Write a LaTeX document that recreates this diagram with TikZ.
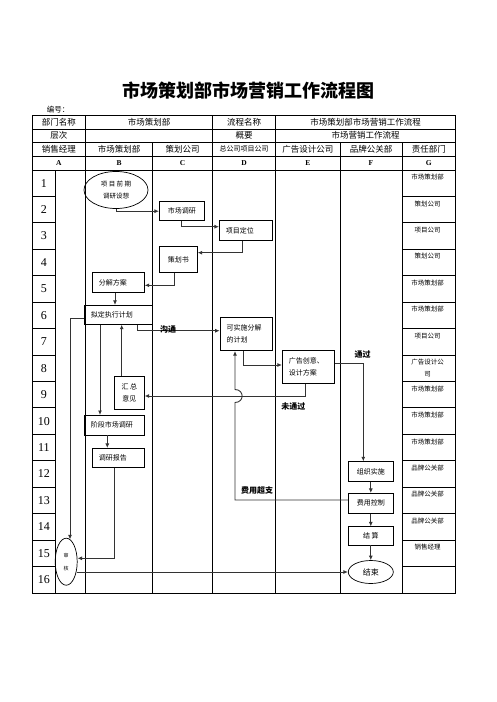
\documentclass[tikz,border=0pt]{standalone}
\usepackage{fontspec}
\setmainfont{Liberation Serif}
\newfontfamily\cjk{Noto Sans CJK SC}
\usetikzlibrary{arrows.meta,calc,shapes.geometric}
\newcommand\cjkfs[2]{\cjk\fontsize{#1}{#2}\selectfont}
\begin{document}
\begin{tikzpicture}[x=1pt,y=-1pt,
  tbl/.style={line width=0.8pt},
  bx/.style={draw, line width=0.7pt, inner sep=0pt, font=\cjkfs{7}{11.5}, align=center},
  bxl/.style={bx, align=left, inner xsep=6.5pt},
  ell/.style={draw, ellipse, line width=0.7pt, inner sep=0pt, align=center},
  conn/.style={line width=0.9pt, draw=black!80, -{Latex[length=4.5pt,width=4pt]}},
  lab/.style={font=\cjk\bfseries\fontsize{8}{9}\selectfont, inner sep=0pt},
  hd/.style={font=\cjkfs{8.5}{9}, inner sep=0pt},
  lt/.style={font=\bfseries\fontsize{7.5}{8}\selectfont, inner sep=0pt},
  num/.style={font=\fontsize{12}{12}\selectfont, inner sep=0pt},
  gt/.style={font=\cjkfs{6.5}{11.6}, inner sep=0pt, anchor=north, align=center}]
\useasboundingbox (0,0) rectangle (496,702);

% title
\node[font=\cjk\bfseries\fontsize{18}{18}\selectfont, inner sep=0pt] (title) at (248.5,91) {市场策划部市场营销工作流程图};
\node[font=\cjkfs{7.5}{8}, inner sep=0pt] (bh) at (58,110) {编号：};

% table
\draw[tbl] (32,115.5) rectangle (455.5,593);
\foreach \yy in {129,142.5,156,170} \draw[tbl] (32,\yy) -- (455.5,\yy);
\foreach \xx in {85.7,212.7,275.7} \draw[tbl] (\xx,115.5) -- (\xx,142.5);
\foreach \xx in {85.7,152.7,212.7,275.7,340,402} \draw[tbl] (\xx,142.5) -- (\xx,170);
\foreach \xx in {55.7,85.7,152.7,212.7,275.7,340,402} \draw[tbl] (\xx,170) -- (\xx,593);
\foreach \k in {1,...,15}{
  \pgfmathsetmacro\yy{170+\k*26.43}
  \draw[tbl] (32,\yy) -- (55.7,\yy);
  \draw[tbl] (402,\yy) -- (455.5,\yy);
}

% header texts
\node[hd] (h11) at (58.9,122.3) {部门名称};
\node[hd] (h12) at (149.2,122.3) {市场策划部};
\node[hd] (h13) at (244.2,122.3) {流程名称};
\node[hd] (h14) at (365.6,122.3) {市场策划部市场营销工作流程};
\node[hd] (h21) at (58.9,135.7) {层次};
\node[hd] (h23) at (244.2,135.7) {概要};
\node[hd] (h24) at (365.6,135.7) {市场营销工作流程};
\node[hd] (h31) at (58.9,149.2) {销售经理};
\node[hd] (h32) at (119.2,149.2) {市场策划部};
\node[hd] (h33) at (182.7,149.2) {策划公司};
\node[hd, font=\cjkfs{7}{8}] (h34) at (244.2,149.2) {总公司项目公司};
\node[hd] (h35) at (307.9,149.2) {广告设计公司};
\node[hd] (h36) at (371,149.2) {品牌公关部};
\node[hd] (h37) at (428.75,149.2) {责任部门};
\foreach \l/\xx in {A/58.9,B/119.2,C/182.7,D/244.2,E/307.9,F/371,G/428.75}
  \node[lt] (L\l) at (\xx,163) {\l};

% row numbers
\foreach \k in {1,...,16}{
  \pgfmathsetmacro\yy{170+(\k-0.5)*26.43}
  \node[num] (n\k) at (43.9,\yy) {\k};
}

% G column texts
\foreach \k/\t in {1/市场策划部,2/策划公司,3/项目公司,4/策划公司,5/市场策划部,6/市场策划部,7/项目公司,8/{广告设计公\\司},9/市场策划部,10/市场策划部,11/市场策划部,12/品牌公关部,13/品牌公关部,14/品牌公关部,15/销售经理}{
  \pgfmathsetmacro\yy{170+(\k-1)*26.43+4}
  \node[gt] (g\k) at (427.5,\yy) {\t};
}

% flow nodes
\node[ell, minimum width=64, minimum height=37, font=\cjkfs{6.5}{11.7}] (e1) at (116,190) {项 目 前 期\\调研设想};
\node[bx, minimum width=45, minimum height=19] (s1) at (181.8,211.2) {市场调研};
\node[bxl, text width=40.4, minimum height=19.6] (s2) at (246,230.5) {项目定位};
\node[bx, minimum width=38, minimum height=25.6] (s3) at (178.3,259.5) {策划书};
\node[bxl, text width=39, minimum height=19.6] (s4) at (118.3,282.5) {分解方案};
\node[bxl, text width=55, minimum height=19] (s5) at (118.3,314.8) {拟定执行计划};
\node[bxl, text width=39.7, minimum height=33.4] (s6) at (246.35,334) {可实施分解\\的计划};
\node[bxl, text width=39, minimum height=33.3] (s7) at (308.3,366.7) {广告创意、\\设计方案};
\node[bx, minimum width=30, minimum height=33.3] (s8) at (129.3,392.7) {汇 总\\意见};
\node[bxl, text width=47, minimum height=19.7] (s9) at (114.3,425.2) {阶段市场调研};
\node[bxl, text width=39, minimum height=19] (s10) at (118.3,457.8) {调研报告};
\node[bx, minimum width=45, minimum height=20] (s11) at (370.8,471.7) {组织实施};
\node[bx, minimum width=45, minimum height=20] (s12) at (370.8,503.3) {费用控制};
\node[bx, minimum width=45, minimum height=18.3] (s13) at (370.8,535.9) {结 算};
\node[ell, minimum width=45, minimum height=23, font=\cjkfs{8}{9}] (e2) at (370.8,572) {结束};
\node[ell, minimum width=22, minimum height=47, font=\cjkfs{5}{13}] (e3) at (66.2,561.7) {审\\核};

% connectors
\draw[conn] (e1.south) |- (s1.west);
\draw[conn] (s1.south) |- ($(s2.west)+(0,-3.8)$);
\draw[conn] ($(s2.south)+(-3.7,0)$) |- ($(s3.east)+(0,-6.8)$);
\draw[conn] ($(s3.south)+(-4,0)$) |- ($(s4.east)+(0,2.8)$);
\draw[conn] ($(s4.south)+(-3.3,0)$) -- ($(s5.north)+(-3.3,0)$);
\draw[conn] ($(s5.south)+(19,0)$) |- ($(s6.west)+(0,-3.3)$);
\draw[conn] ($(s6.south)+(-3,0)$) |- ($(s7.west)+(0,-1.7)$);
\draw[conn] ($(s7.east)+(0,-3.4)$) -| ($(s11.north)+(-7.5,0)$);
\draw[conn] ($(s7.south)+(-3.3,0)$) |- ($(s8.east)+(0,3.3)$);
\coordinate (vx) at ($(s6.south)+(-11.35,0)$);
\coordinate (hy) at ($(s8.east)+(0,3.3)$);
\coordinate (hop) at (vx |- hy);
\draw[conn] ($(s12.west)+(0,-3.3)$) -| ($(hop)+(0,6.5)$) .. controls ($(hop)+(9.5,6.5)$) and ($(hop)+(9.5,-6.5)$) .. ($(hop)+(0,-6.5)$) -- (vx);
\draw[conn] ($(s8.north)+(-7.6,0)$) -- ($(s5.south)+(3.4,0)$);
\draw[conn] ($(s5.south)+(-18.3,0)$) -- ($(s9.north)+(-14.3,0)$);
\draw[conn] ($(s9.south)+(-7,0)$) -- ($(s10.north)+(-11,0)$);
\draw[conn] ($(s10.south)+(-4,0)$) |- ($(e3.east)+(0,-3.4)$);
\draw[conn] ($(s5.west)+(0,3.5)$) -| ($(e3.north)+(3.8,1.6)$);
\draw[conn] ($(e2.west -| e3.east)+(-1,0)$) -- (e2.west);
\draw[conn] (s11.south) -- (s12.north);
\draw[conn] (s12.south) -- (s13.north);
\draw[conn] (s13.south) -- (e2.north);

% labels
\node[lab] (l1) at (168,329) {沟通};
\node[lab] (l2) at (362.5,354) {通过};
\node[lab] (l3) at (293.3,406.7) {未通过};
\node[lab] (l4) at (257,490.7) {费用超支};
\end{tikzpicture}
\end{document}
